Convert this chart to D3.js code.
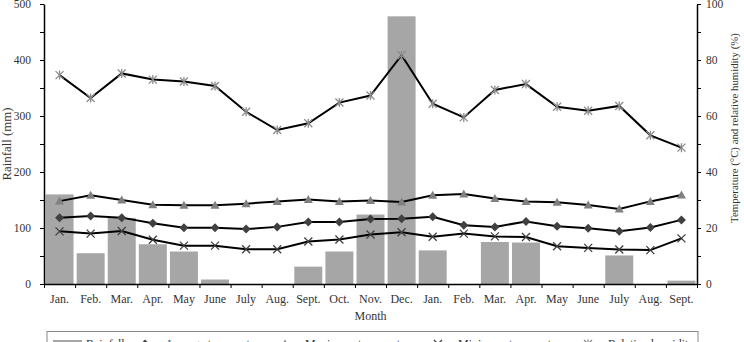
<!DOCTYPE html>
<html>
<head>
<meta charset="utf-8">
<script src="https://cdn.jsdelivr.net/npm/d3@7"></script>
<style>
  body { margin: 0; background: #fff; }
  svg { display: block; font-family: "Liberation Serif", "Times New Roman", serif; }
  .axis path, .axis line { stroke: #000; }
  .axis text { font-family: "Liberation Serif", serif; font-size: 11.5px; fill: #333; }
</style>
</head>
<body>
<div id="chart"></div>
<script>
const W = 744, H = 342;
const margin = { top: 4, right: 47, bottom: 58, left: 44 };

const months = ["Jan.", "Feb.", "Mar.", "Apr.", "May", "June", "July", "Aug.", "Sept.", "Oct.", "Nov.", "Dec.",
  "Jan.", "Feb.", "Mar.", "Apr.", "May", "June", "July", "Aug.", "Sept."];
const rainfall = [160, 55, 118, 71, 58, 8, 0, 0, 31, 58, 124, 478, 60, 0, 75, 74, 0, 0, 51, 0, 6];
const avgTemp = [23.7, 24.3, 23.7, 21.7, 20.1, 20.1, 19.6, 20.4, 22.1, 22.1, 23.2, 23.3, 24.0, 21.0, 20.4, 22.3, 20.6, 19.9, 18.8, 20.2, 22.9];
const maxTemp = [29.6, 31.7, 30.0, 28.3, 28.1, 28.1, 28.7, 29.5, 30.2, 29.5, 29.8, 29.3, 31.7, 32.1, 30.5, 29.5, 29.2, 28.2, 26.8, 29.5, 31.8];
const minTemp = [18.8, 18.0, 18.9, 15.8, 13.7, 13.7, 12.4, 12.4, 15.2, 15.9, 17.7, 18.5, 16.9, 18.0, 17.0, 16.8, 13.5, 12.9, 12.3, 12.1, 16.3];
const humidity = [74.6, 66.4, 75.2, 73.0, 72.3, 70.7, 61.5, 55.0, 57.4, 64.8, 67.3, 81.7, 64.4, 59.5, 69.3, 71.4, 63.3, 61.9, 63.6, 53.1, 48.7];

const x0 = margin.left, x1 = W - margin.right;
const yTop = margin.top;
const plotBottom = 284;

const x = d3.scaleBand().domain(d3.range(months.length)).range([x0, x1]).paddingInner(0.1).paddingOuter(0.05);
const xb = d3.scaleLinear().domain([0, months.length]).range([x0, x1]);
const yL = d3.scaleLinear().domain([0, 500]).range([plotBottom, yTop]);
const yR = d3.scaleLinear().domain([0, 100]).range([plotBottom, yTop]);

const svg = d3.select("#chart").append("svg").attr("width", W).attr("height", H);

// rainfall bars
svg.append("g").selectAll("rect")
  .data(rainfall)
  .enter().append("rect")
  .attr("x", (d, i) => x(i))
  .attr("width", x.bandwidth())
  .attr("y", d => yL(d))
  .attr("height", d => plotBottom - yL(d))
  .attr("fill", "#a6a6a6");

// lines
const cx = i => xb(i + 0.5);
const line = d3.line().x((d, i) => cx(i)).y(d => yR(d));

const series = [
  { name: "Average temperature", values: avgTemp, marker: "diamond", color: "#404040" },
  { name: "Maximum temperature", values: maxTemp, marker: "triangle", color: "#808080" },
  { name: "Minimum temperature", values: minTemp, marker: "cross", color: "#404040" },
  { name: "Relative humidity", values: humidity, marker: "star", color: "#8c8c8c" }
];

function drawMarker(g, type, color) {
  if (type === "diamond") {
    g.append("path").attr("d", "M0,-4.5L4.5,0L0,4.5L-4.5,0Z").attr("fill", color);
  } else if (type === "triangle") {
    g.append("path").attr("d", "M0,-4.5L4.5,3.5L-4.5,3.5Z").attr("fill", color);
  } else if (type === "cross") {
    g.append("path").attr("d", "M-4,-4L4,4M-4,4L4,-4").attr("stroke", color).attr("stroke-width", 1.3).attr("fill", "none");
  } else {
    g.append("path").attr("d", "M-4,-4L4,4M-4,4L4,-4M0,-4.5L0,4.5").attr("stroke", color).attr("stroke-width", 1.3).attr("fill", "none");
  }
}

series.forEach(s => {
  svg.append("path")
    .datum(s.values)
    .attr("d", line)
    .attr("fill", "none")
    .attr("stroke", "#000")
    .attr("stroke-width", 2);
  svg.append("g").selectAll("g")
    .data(s.values)
    .enter().append("g")
    .attr("transform", (d, i) => `translate(${cx(i)},${yR(d)})`)
    .each(function () { drawMarker(d3.select(this), s.marker, s.color); });
});

// left axis
svg.append("g")
  .attr("class", "axis")
  .attr("transform", `translate(${x0},0)`)
  .call(d3.axisLeft(yL).tickValues(d3.range(0, 501, 50)).tickSize(4).tickSizeOuter(0)
    .tickFormat(d => d % 100 === 0 ? d : ""))
  .call(g => g.select(".domain").attr("stroke-width", 1.5))
  .call(g => g.selectAll("text").attr("x", -13));

// right axis
svg.append("g")
  .attr("class", "axis")
  .attr("transform", `translate(${x1},0)`)
  .call(d3.axisRight(yR).tickValues(d3.range(0, 101, 10)).tickSize(4).tickSizeOuter(0)
    .tickFormat(d => d % 20 === 0 ? d : ""))
  .call(g => g.select(".domain").attr("stroke-width", 1.5))
  .call(g => g.selectAll("text").attr("x", 9));

// bottom axis
const xAxis = svg.append("g")
  .attr("class", "axis")
  .attr("transform", `translate(0,${plotBottom})`);
xAxis.call(d3.axisBottom(xb).tickValues(d3.range(0, months.length + 1)).tickSize(4).tickSizeOuter(0).tickFormat(""))
  .call(g => g.select(".domain").attr("stroke-width", 1.5));
xAxis.selectAll(".mlabel")
  .data(months)
  .enter().append("text")
  .attr("class", "mlabel")
  .attr("x", (d, i) => cx(i))
  .attr("y", 19)
  .attr("text-anchor", "middle")
  .attr("fill", "#333")
  .style("font-size", "12px")
  .text(d => d);

// axis titles
svg.append("text")
  .attr("x", (x0 + x1) / 2)
  .attr("y", 320)
  .attr("text-anchor", "middle")
  .attr("fill", "#333")
  .style("font-size", "12px")
  .text("Month");

svg.append("text")
  .attr("transform", `translate(11,${(yTop + plotBottom) / 2}) rotate(-90)`)
  .attr("text-anchor", "middle")
  .attr("fill", "#333")
  .style("font-size", "12.8px")
  .text("Rainfall (mm)");

svg.append("text")
  .attr("transform", `translate(738,128) rotate(-90)`)
  .attr("text-anchor", "middle")
  .attr("fill", "#333")
  .style("font-size", "10.8px")
  .text("Temperature (°C) and relative humidity (%)");

// legend
const legend = svg.append("g");
legend.append("rect")
  .attr("x", 47).attr("y", 331.5)
  .attr("width", 651).attr("height", 24)
  .attr("fill", "none").attr("stroke", "#888").attr("stroke-width", 1);

const ly = 344;
legend.append("rect")
  .attr("x", 53).attr("y", ly - 4).attr("width", 29).attr("height", 8)
  .attr("fill", "#a6a6a6");
legend.append("text").attr("x", 86).attr("y", ly + 3.5).attr("fill", "#333").style("font-size", "12px").text("Rainfall");

const legendPos = [145, 285, 438, 588];
series.forEach((s, i) => {
  const g = legend.append("g").attr("transform", `translate(${legendPos[i]},${ly})`);
  drawMarker(g, s.marker, s.color);
  legend.append("text").attr("x", legendPos[i] + 20).attr("y", ly + 3.5)
    .attr("fill", "#333").style("font-size", "12px").text(s.name);
});
</script>
</body>
</html>
